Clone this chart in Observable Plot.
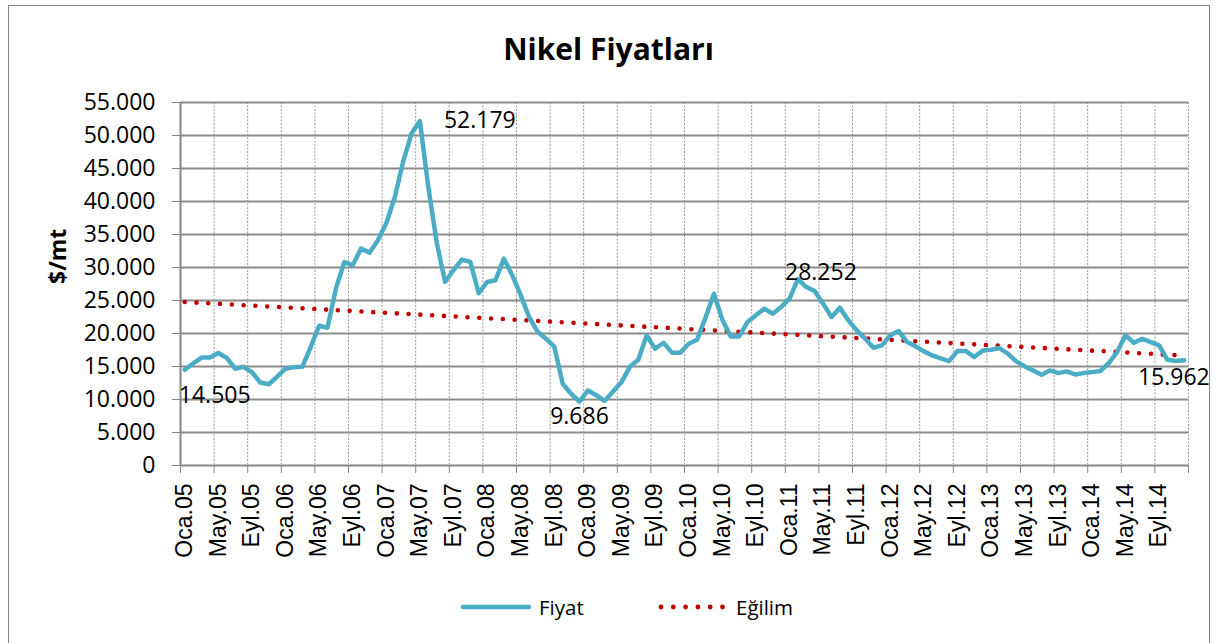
<!DOCTYPE html>
<html><head><meta charset="utf-8">
<script src="https://cdn.jsdelivr.net/npm/d3@7"></script>
<script src="https://cdn.jsdelivr.net/npm/@observablehq/plot@0.6"></script>
<style>
body{margin:0;background:#fff;font-family:"Open Sans",sans-serif;}
#wrap{position:relative;width:1217px;height:643px;overflow:hidden;background:#fff;}
#frame{position:absolute;left:8px;top:5px;width:1202px;height:642px;border:1px solid #868686;box-sizing:border-box;}
#title{position:absolute;left:0;width:1217px;top:29px;text-align:center;font-weight:700;font-size:30px;line-height:40px;color:#000;}
#chart{position:absolute;left:0;top:80px;}
.leg{position:absolute;top:592px;height:30px;display:flex;align-items:center;font-size:20.5px;color:#000;}
</style>
</head><body>
<div id="wrap">
  <div id="frame"></div>
  <div id="title">Nikel Fiyatları</div>
  <div id="chart"></div>
  <div class="leg" style="left:456px;"><svg width="80" height="30"><line x1="7" y1="15" x2="73" y2="15" stroke="#4BACC6" stroke-width="4.5" stroke-linecap="round"/></svg></div>
  <div class="leg" style="left:539px;">Fiyat</div>
  <div class="leg" style="left:655px;"><svg width="75" height="30" id="dots"></svg></div>
  <div class="leg" style="left:736px;">Eğilim</div>
</div>
<script>
// Monthly nickel prices ($/mt), Jan 2005 - Dec 2014
const price2005 = [14505, 15450, 16350, 16350, 17040, 16300, 14660, 14950, 14150, 12580, 12300, 13450];
const price2006 = [14660, 14900, 14960, 17950, 21180, 20880, 26790, 30830, 30330, 32860, 32250, 34120];
const price2007 = [36700, 40600, 46000, 50300, 52179, 42200, 33800, 27800, 29600, 31200, 30850, 26100];
const price2008 = [27800, 28060, 31340, 28800, 25800, 22500, 20300, 19210, 18000, 12380, 10870, 9686];
const price2009 = [11370, 10650, 9800, 11200, 12640, 14950, 16020, 19720, 17690, 18600, 17100, 17100];
const price2010 = [18450, 19060, 22400, 26030, 22100, 19560, 19560, 21740, 22750, 23760, 23000, 24010];
const price2011 = [25270, 28252, 27040, 26440, 24520, 22500, 23910, 21990, 20470, 19210, 17840, 18200];
const price2012 = [19720, 20370, 18700, 18050, 17290, 16680, 16230, 15820, 17340, 17340, 16430, 17440];
const price2013 = [17540, 17800, 16930, 15770, 15010, 14410, 13750, 14410, 14000, 14260, 13800, 14000];
const price2014 = [14150, 14300, 15520, 17190, 19720, 18600, 19210, 18700, 18200, 16020, 15820, 15962];

// Trend line (Eğilim) end values
const trendStart = 24770;
const trendEnd = 16650;

const tickLabels = ["Oca.05","May.05","Eyl.05","Oca.06","May.06","Eyl.06","Oca.07","May.07","Eyl.07",
  "Oca.08","May.08","Eyl.08","Oca.09","May.09","Eyl.09","Oca.10","May.10","Eyl.10","Oca.11","May.11","Eyl.11",
  "Oca.12","May.12","Eyl.12","Oca.13","May.13","Eyl.13","Oca.14","May.14","Eyl.14"];
const yTicks = [0,5000,10000,15000,20000,25000,30000,35000,40000,45000,50000,55000];

// labelled points (month index, value)
const labelIdx = [0, 28, 47, 73, 119];

const price = [].concat(price2005, price2006, price2007, price2008, price2009,
  price2010, price2011, price2012, price2013, price2014);
const series = price.map((v, i) => ({x: i + 0.5, y: v}));
const trend = [{x: 0.5, y: trendStart}, {x: price.length - 0.5, y: trendEnd}];

const loc = d3.formatLocale({decimal: ",", thousands: ".", grouping: [3], currency: ["", ""]});
const fmt = loc.format(",d");

const labelOffsets = [
  {dx: 30, dy: 26, textAnchor: "middle"},
  {dx: 24, dy: 0, textAnchor: "start"},
  {dx: 0, dy: 15, textAnchor: "middle"},
  {dx: 23, dy: -6, textAnchor: "middle"},
  {dx: -10.5, dy: 17, textAnchor: "middle"}
];

const tickPos = d3.range(0, 121, 4);
const labelPos = d3.range(0, 120, 4).map(t => t + 0.5);

const chart = Plot.plot({
  width: 1217, height: 500,
  marginLeft: 180, marginRight: 29, marginTop: 22, marginBottom: 115,
  x: {domain: [0, 120]},
  y: {domain: [0, 55000]},
  style: {fontFamily: "Open Sans", color: "#000", background: "transparent"},
  marks: [
    Plot.gridX(d3.range(4, 121, 4), {stroke: "#9a9a9a", strokeOpacity: 1, strokeWidth: 1, strokeDasharray: "2,1.5"}),
    Plot.gridY(yTicks.slice(1), {stroke: "#8c8c8c", strokeOpacity: 1, strokeWidth: 1.8}),
    Plot.ruleX([0], {stroke: "#868686", strokeWidth: 2}),
    Plot.ruleY([0], {stroke: "#868686", strokeWidth: 2}),
    Plot.axisY(yTicks, {tickSize: 8, tickPadding: 17, tickFormat: d => fmt(d), fontSize: 23, fontFamily: "Open Sans", stroke: "#868686", fill: "#000", label: null}),
    Plot.axisX(tickPos, {tickSize: 8, tickFormat: () => "", stroke: "#868686", label: null}),
    Plot.axisX(labelPos, {tickSize: 0, tickPadding: 18, tickRotate: -90, fontSize: 23, fontFamily: "Liberation Sans", fill: "#000",
      tickFormat: d => tickLabels[Math.round((d - 0.5) / 4)], label: null}),
    Plot.text(["$/mt"], {frameAnchor: "left", dx: -122, rotate: -90, fontWeight: "bold", fontSize: 23, fontFamily: "Open Sans", fill: "#000"}),
    Plot.line(trend, {x: "x", y: "y", stroke: "#C00000", strokeWidth: 4.6, strokeLinecap: "round", strokeDasharray: "0,11.8"}),
    Plot.line(series, {x: "x", y: "y", stroke: "#4BACC6", strokeWidth: 4.5, strokeLinejoin: "round", strokeLinecap: "round"}),
    ...labelIdx.map((idx, k) => Plot.text([series[idx]], {
      x: "x", y: "y", text: d => fmt(d.y), fontSize: 23, fontFamily: "Open Sans", fill: "#000",
      dx: labelOffsets[k].dx, dy: labelOffsets[k].dy, textAnchor: labelOffsets[k].textAnchor
    }))
  ]
});
document.getElementById("chart").appendChild(chart);

// legend dots
const dots = d3.select("#dots");
d3.range(6).forEach(k => dots.append("circle").attr("cx", 6 + k * 12.3).attr("cy", 15).attr("r", 2.4).attr("fill", "#C00000"));
</script>
</body></html>
